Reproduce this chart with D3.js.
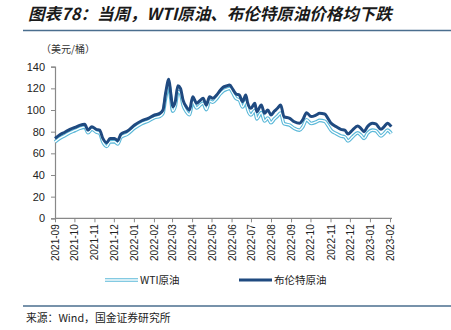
<!DOCTYPE html>
<html><head><meta charset="utf-8">
<script src="https://cdn.jsdelivr.net/npm/d3@7/dist/d3.min.js"></script>
<style>
html,body{margin:0;padding:0;background:#fff;}
svg{display:block;}
</style></head>
<body>
<svg id="c" width="451" height="330"></svg>
<script>
const dates = ["2021-09-01","2021-09-08","2021-09-16","2021-09-24","2021-10-02","2021-10-09","2021-10-17","2021-10-22","2021-10-28","2021-11-04","2021-11-09","2021-11-14","2021-11-20","2021-11-25","2021-12-02","2021-12-07","2021-12-12","2021-12-22","2022-01-02","2022-01-13","2022-01-23","2022-02-02","2022-02-10","2022-02-15","2022-02-19","2022-02-24","2022-02-27","2022-03-02","2022-03-06","2022-03-10","2022-03-14","2022-03-18","2022-03-23","2022-03-28","2022-04-02","2022-04-08","2022-04-13","2022-04-18","2022-04-23","2022-04-28","2022-05-03","2022-05-09","2022-05-14","2022-05-19","2022-05-24","2022-05-29","2022-06-03","2022-06-08","2022-06-13","2022-06-18","2022-06-23","2022-06-26","2022-07-01","2022-07-07","2022-07-10","2022-07-17","2022-07-22","2022-07-27","2022-08-01","2022-08-06","2022-08-11","2022-08-16","2022-08-21","2022-08-30","2022-09-06","2022-09-14","2022-09-19","2022-09-25","2022-10-02","2022-10-10","2022-10-15","2022-10-23","2022-10-28","2022-11-02","2022-11-10","2022-11-17","2022-11-23","2022-11-28","2022-12-05","2022-12-13","2022-12-18","2022-12-23","2022-12-28","2023-01-05","2023-01-10","2023-01-18","2023-01-23","2023-01-28","2023-02-03"];
const brent = [73.8,77.0,79.5,82.2,84.0,85.8,86.8,81.5,84.6,82.2,81.5,73.8,69.8,73.8,73.8,71.7,77.8,80.6,86.1,90.1,92.3,95.4,96.9,100,115.4,128.3,115.4,103,107.7,122.4,120,109.2,103,100,112.3,106.2,108.6,110.8,104.6,112.3,110.8,113.8,117.8,121,122.2,123.1,119.1,114.8,113.8,107.7,113.8,106.2,101.6,106.2,98.4,104.6,97,100,95.4,98.8,101.6,104.6,93.9,92.3,89.2,87.7,90.8,97.5,93.9,95.4,96.9,96.3,92.3,87.7,84.6,82.2,81.5,77.8,81.5,85.2,83.1,80,84.6,87.7,87.1,82.2,84.6,87.7,84.6];
const wti = [70.6,73.8,76.4,79.2,81.1,83.0,84.2,79.0,82.3,79.6,78.6,70.5,66.4,70.6,70.8,68.6,74.9,77.8,83.4,87.5,89.8,93.0,94.1,97.1,111.2,123.4,111.0,99.0,103.6,117.2,115.4,104.6,98.6,95.6,107.8,101.9,104.3,106.4,100.4,108.4,107.2,110.6,114.6,117.6,119.0,120.0,115.6,110.6,109.2,102.8,107.8,100.4,95.4,99.6,91.8,97.6,89.8,92.6,88.2,91.6,94.4,97.2,87.4,86.0,83.0,81.4,84.4,91.0,87.6,89.0,90.4,89.6,85.8,81.2,78.2,76.0,75.2,71.4,75.2,78.9,76.8,73.8,78.4,81.4,80.9,76.0,78.3,81.4,78.3];
const yTicks = [0,20,40,60,80,100,120,140];
const tickMonths = ["2021-09","2021-10","2021-11","2021-12","2022-01","2022-02","2022-03","2022-04","2022-05","2022-06","2022-07","2022-08","2022-09","2022-10","2022-11","2022-12","2023-01","2023-02"];
const seriesNames = ["WTI原油","布伦特原油"];
const titleText = "图表78：当周，WTI原油、布伦特原油价格均下跌";
const unitText = "（美元/桶）";
const sourceText = "来源：Wind，国金证券研究所";

const svg = d3.select("#c");
const parse = d3.timeParse("%Y-%m-%d");
const parseM = d3.timeParse("%Y-%m");
const L = 55, R = 390, T = 66.7, B = 218.3;
const cjk = "'Noto Sans CJK SC','Noto Sans',sans-serif";
const lat = "'Liberation Sans',Arial,sans-serif";

const x = d3.scaleTime().domain([parseM(tickMonths[0]), parseM(tickMonths[tickMonths.length-1])]).range([L, R]);
const y = d3.scaleLinear().domain([0, 140]).range([B, T]);

// title
svg.append("text").attr("x", 28).attr("y", 20).attr("font-family", cjk).attr("font-size", 16.5)
  .attr("font-weight", "bold").attr("font-style", "italic").attr("fill", "#1a1a1a").text(titleText);
svg.append("line").attr("x1", 23).attr("x2", 451).attr("y1", 30.5).attr("y2", 30.5)
  .attr("stroke", "#4a6e8e").attr("stroke-width", 1.6);
svg.append("text").attr("x", 41).attr("y", 53).attr("font-family", cjk).attr("font-size", 10)
  .attr("fill", "#333").text(unitText);

// y axis
const ya = svg.append("g").attr("transform", `translate(${L},0)`)
  .call(d3.axisLeft(y).tickValues(yTicks).tickSize(4).tickPadding(6).tickFormat(d3.format("d")));
ya.select(".domain").attr("stroke", "#888").attr("stroke-width", 1.2);
ya.selectAll(".tick line").attr("stroke", "#888");
ya.selectAll("text").attr("font-family", lat).attr("font-size", 11).attr("fill", "#222");

// x axis
const xa = svg.append("g").attr("transform", `translate(0,${B})`)
  .call(d3.axisBottom(x).tickValues(tickMonths.map(parseM)).tickSize(4).tickFormat(d3.timeFormat("%Y-%m")));
xa.select(".domain").attr("stroke", "#888").attr("stroke-width", 1.2).attr("d", `M${L},0H${R+2}`);
xa.selectAll(".tick line").attr("stroke", "#888");
xa.selectAll("text").attr("font-family", lat).attr("font-size", 10).attr("fill", "#222")
  .attr("transform", "rotate(-90)").attr("text-anchor", "end").attr("dy", "0.35em").attr("x", -6).attr("y", 0);

// lines
const mk = vals => dates.map((d, i) => ({d: parse(d), v: vals[i]}));
const line = d3.line().x(p => x(p.d)).y(p => y(p.v)).curve(d3.curveMonotoneX);
const wtiData = mk(wti), brentData = mk(brent);
svg.append("path").datum(wtiData).attr("d", line).attr("fill", "none").attr("stroke", "#5ab8d8").attr("stroke-width", 3.6).attr("stroke-linejoin", "round");
svg.append("path").datum(wtiData).attr("d", line).attr("fill", "none").attr("stroke", "#ffffff").attr("stroke-width", 1.4).attr("stroke-linejoin", "round");
svg.append("path").datum(brentData).attr("d", line).attr("fill", "none").attr("stroke", "#1f4a80").attr("stroke-width", 3).attr("stroke-linejoin", "round");

// legend
const lg = svg.append("g");
lg.append("line").attr("x1", 105).attr("x2", 138).attr("y1", 280).attr("y2", 280).attr("stroke", "#5ab8d8").attr("stroke-width", 3.6);
lg.append("line").attr("x1", 105).attr("x2", 138).attr("y1", 280).attr("y2", 280).attr("stroke", "#fff").attr("stroke-width", 1.4);
lg.append("text").attr("x", 140).attr("y", 284).attr("font-family", cjk).attr("font-size", 10.5).attr("fill", "#222").text(seriesNames[0]);
lg.append("line").attr("x1", 239).attr("x2", 272).attr("y1", 280).attr("y2", 280).attr("stroke", "#1f4a80").attr("stroke-width", 3);
lg.append("text").attr("x", 274).attr("y", 284).attr("font-family", cjk).attr("font-size", 10.5).attr("fill", "#222").text(seriesNames[1]);

// footer
svg.append("line").attr("x1", 23).attr("x2", 451).attr("y1", 306).attr("y2", 306).attr("stroke", "#4a6e8e").attr("stroke-width", 1.6);
svg.append("text").attr("x", 26).attr("y", 322).attr("font-family", cjk).attr("font-size", 10.8).attr("fill", "#222").text(sourceText);
</script>
</body></html>
